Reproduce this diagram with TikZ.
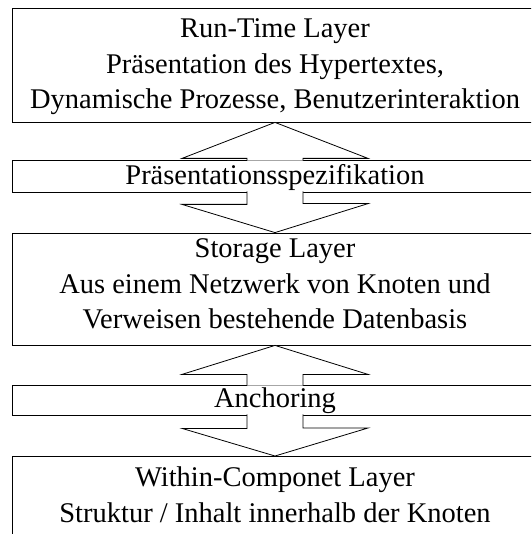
\documentclass[tikz,border=0pt]{standalone}
\usepackage{fontspec}
\setmainfont{Liberation Serif}
\usetikzlibrary{positioning,calc}

\tikzset{
  layerbox/.style={draw, line width=0.8pt, minimum width=526pt, inner sep=0pt},
  bandbox/.style={draw, line width=0.8pt, minimum width=526pt, inner sep=0pt},
  layertext/.style={align=center, inner sep=0pt, font=\fontsize{28.5}{35.5}\selectfont},
  blockarrow/.style={draw, line width=0.8pt, fill=white, line join=miter}
}

\begin{document}
\begin{tikzpicture}[x=1pt, y=-1pt]

    \useasboundingbox (0,0) rectangle (531,534);
    \clip (0,0) rectangle (531,534);

    % Schichten
    \node[layerbox, minimum height=114pt] (runtime) at (275,65) {};
    \node[layertext] (runtimetext) at ($(runtime.center)+(0,2)$) {Run-Time Layer\\Präsentation des Hypertextes,\\Dynamische Prozesse, Benutzerinteraktion};
    \node[bandbox, layertext, minimum height=32pt, text depth=4pt] (praes) at (275,176) {Präsentationsspezifikation};
    \node[layerbox, minimum height=112pt] (storage) at (275,289) {};
    \node[layertext] (storagetext) at ($(storage.center)+(0,-5)$) {Storage Layer\\Aus einem Netzwerk von Knoten und\\Verweisen bestehende Datenbasis};
    \node[bandbox, layertext, minimum height=30pt, text depth=4pt] (anchor) at (275,400) {Anchoring};
    \node[layerbox, minimum height=110pt, anchor=north] (within) at (275,456) {};
    \node[layertext, below=11pt of within.north] (withintext) {Within-Componet Layer\\Struktur / Inhalt innerhalb der Knoten};

    % Blockpfeile
    \draw[blockarrow] ($(praes.north)+(-28,1)$) -- ($(runtime.south)+(-28,36)$) -- ++(-65,0) -- (runtime.south)
        -- ++(93,36) -- ++(-65,0) -- ($(praes.north)+(28,1)$);
    \draw[blockarrow] ($(praes.south)+(-28,-1)$) -- ($(praes.south)+(-28,12)$) -- ++(-65,0) -- (storage.north)
        -- ++(93,-29) -- ++(-65,0) -- ($(praes.south)+(28,-1)$);
    \draw[blockarrow] ($(anchor.north)+(-28,1)$) -- ($(storage.south)+(-28,29)$) -- ++(-65,0) -- (storage.south)
        -- ++(93,29) -- ++(-65,0) -- ($(anchor.north)+(28,1)$);
    \draw[blockarrow] ($(anchor.south)+(-28,-1)$) -- ($(anchor.south)+(-28,13)$) -- ++(-65,0) -- (within.north)
        -- ++(93,-28) -- ++(-65,0) -- ($(anchor.south)+(28,-1)$);

\end{tikzpicture}
\end{document}
